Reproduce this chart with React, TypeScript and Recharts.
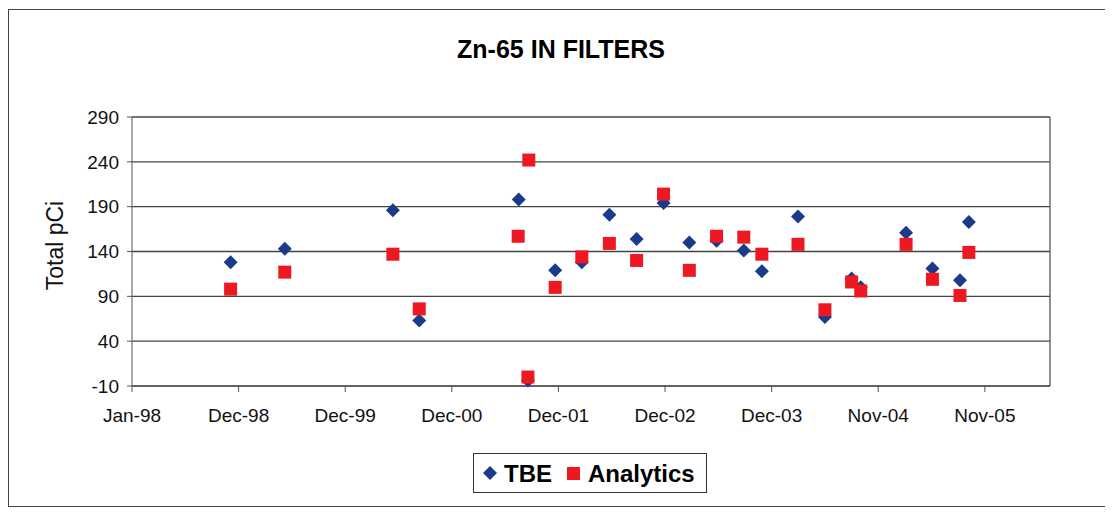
import React from 'react';
import { ScatterChart, Scatter, XAxis, YAxis, CartesianGrid, Legend, ReferenceLine } from 'recharts';

// x values are days since 1 Jan 1998
const tickDays = [0, 360, 720, 1080, 1440, 1800, 2160, 2520, 2880];
const tickLabels = ['Jan-98', 'Dec-98', 'Dec-99', 'Dec-00', 'Dec-01', 'Dec-02', 'Dec-03', 'Nov-04', 'Nov-05'];
const yTicks = [-10, 40, 90, 140, 190, 240, 290];
const seriesNames = ['TBE', 'Analytics'];

const tbeDays = [333, 516, 881, 970, 1306, 1337, 1429, 1519, 1612, 1704, 1795, 1882, 1974, 2066, 2127, 2249, 2340, 2430, 2461, 2614, 2703, 2796, 2826];
const tbeValues = [128, 143, 186, 63, 198, -4, 119, 128, 181, 154, 194, 150, 152, 141, 118, 179, 67, 110, 100, 161, 121, 108, 173];

const analyticsDays = [333, 516, 881, 970, 1304, 1340, 1337, 1429, 1519, 1612, 1704, 1795, 1882, 1974, 2066, 2127, 2249, 2340, 2430, 2461, 2614, 2703, 2796, 2826];
const analyticsValues = [98, 117, 137, 76, 157, 242, 0, 100, 134, 149, 130, 204, 119, 157, 156, 137, 148, 75, 106, 96, 148, 109, 91, 139];

const NAVY = '#1B3A8C';
const RED = '#EE1822';
const FONT = '"Liberation Sans", Arial, sans-serif';

const tbeData = tbeDays.map((d, i) => ({ x: d, y: tbeValues[i] }));
const analyticsData = analyticsDays.map((d, i) => ({ x: d, y: analyticsValues[i] }));

const DiamondShape = (props: any) => {
  const { cx, cy } = props;
  const r = 7;
  return <polygon points={`${cx},${cy - r} ${cx + r},${cy} ${cx},${cy + r} ${cx - r},${cy}`} fill={NAVY} />;
};

const SquareShape = (props: any) => {
  const { cx, cy } = props;
  const s = 13;
  return <rect x={cx - s / 2} y={cy - s / 2} width={s} height={s} fill={RED} />;
};

const renderLegend = (props: any) => {
  const payload: any[] = props.payload || [];
  const has = (n: string) => payload.length === 0 || payload.some((p) => p.value === n);
  return (
    <svg width={234} height={40} style={{ display: 'block' }}>
      <rect x={0.5} y={0.5} width={233} height={39} fill="#fff" stroke="#333" strokeWidth={1} />
      {has(seriesNames[0]) && (
        <g>
          <polygon points="17,13 24,20 17,27 10,20" fill={NAVY} />
          <text x={31} y={29} fontFamily={FONT} fontSize={24} fontWeight="bold" fill="#000">{seriesNames[0]}</text>
        </g>
      )}
      {has(seriesNames[1]) && (
        <g>
          <rect x={94} y={14} width={13} height={13} fill={RED} />
          <text x={115} y={29} fontFamily={FONT} fontSize={24} fontWeight="bold" fill="#000">{seriesNames[1]}</text>
        </g>
      )}
    </svg>
  );
};

const renderYLabel = (props: any) => {
  const vb = props.viewBox || { x: 0, y: 107, width: 123, height: 269 };
  const cx = 54;
  const cy = vb.y + vb.height / 2 - 6;
  return (
    <text x={cx} y={cy} transform={`rotate(-90 ${cx} ${cy})`} textAnchor="middle" fontFamily={FONT} fontSize={23} fill="#111">
      Total pCi
    </text>
  );
};

export default function App() {
  return (
    <div
      style={{
        position: 'relative',
        marginTop: 1,
        width: 1104,
        height: 496,
        borderTop: '1px solid #444',
        borderLeft: '1px solid #444',
        borderBottom: '1px solid #444',
        background: '#fff',
      }}
    >
      <div
        style={{
          position: 'absolute',
          left: 0,
          top: 27,
          width: 1104,
          textAlign: 'center',
          fontFamily: FONT,
          fontWeight: 'bold',
          fontSize: 25,
          lineHeight: '25px',
          color: '#000',
        }}
      >
        Zn-65 IN FILTERS
      </div>
      <ScatterChart width={1104} height={496} margin={{ top: 107, right: 63, left: 0, bottom: 75 }}>
        <CartesianGrid horizontal={true} vertical={false} stroke="#444" strokeWidth={1.3} />
        <XAxis
          type="number"
          dataKey="x"
          domain={[0, 3100]}
          ticks={tickDays}
          tickFormatter={(v: number) => tickLabels[tickDays.indexOf(v)] ?? ''}
          tickSize={6}
          tickMargin={17}
          height={45}
          stroke="#555"
          tick={{ fontFamily: FONT, fontSize: 19, fill: '#111' }}
          interval={0}
        />
        <YAxis
          type="number"
          dataKey="y"
          domain={[-10, 290]}
          ticks={yTicks}
          width={123}
          tickSize={5}
          tickMargin={8}
          stroke="#555"
          tick={{ fontFamily: FONT, fontSize: 19, fill: '#111' }}
          interval={0}
          label={{ content: renderYLabel }}
        />
        <ReferenceLine x={3100} stroke="#555" strokeWidth={1.3} ifOverflow="visible" />
        <Legend
          layout="horizontal"
          align="center"
          verticalAlign="middle"
          content={renderLegend}
          wrapperStyle={{ left: 464, top: 443, width: 234, height: 40 }}
        />
        <Scatter name={seriesNames[0]} data={tbeData} fill={NAVY} shape={DiamondShape} isAnimationActive={false} />
        <Scatter name={seriesNames[1]} data={analyticsData} fill={RED} shape={SquareShape} isAnimationActive={false} />
      </ScatterChart>
    </div>
  );
}
